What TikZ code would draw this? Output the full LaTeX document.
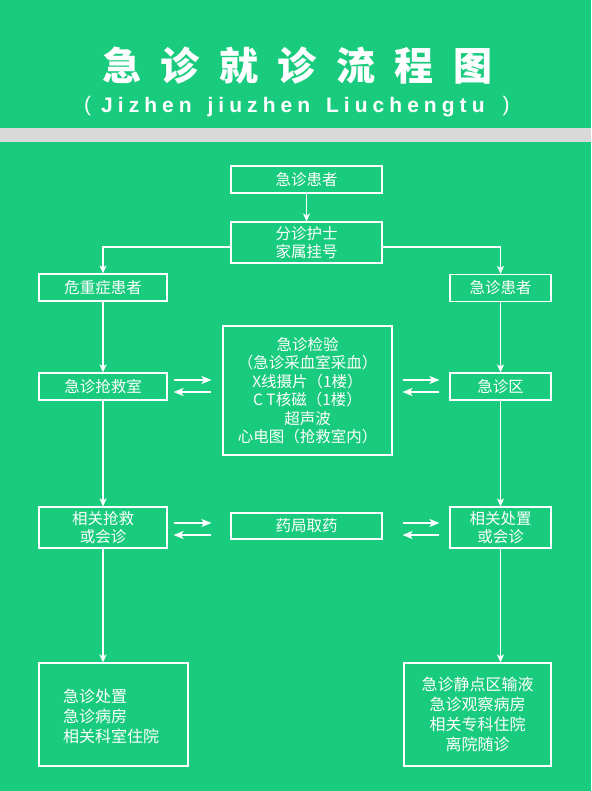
\documentclass[tikz,border=0pt]{standalone}
\usepackage{fontspec}
\newfontfamily\cjk{Noto Sans CJK SC}
\newfontfamily\titf[LetterSpace=50]{Noto Sans CJK SC}
\newfontfamily\subf[LetterSpace=24]{Liberation Sans}
\newfontfamily\parf{Liberation Sans}
\usetikzlibrary{arrows.meta}
\definecolor{bg}{RGB}{25,204,125}
\definecolor{barc}{RGB}{217,217,217}
\begin{document}
\begin{tikzpicture}[x=1pt,y=-1pt,
  boxn/.style={draw=white, line width=1.1pt, text=white, inner sep=0pt, align=center,
    font=\cjk\fontsize{15.5}{18.5}\selectfont},
  txt/.style={text=white, inner sep=0pt, font=\cjk\fontsize{16}{20}\selectfont},
  arr/.style={draw=white, line width=1.3pt, -{Stealth[length=8pt,width=7pt,inset=2pt]}},
  harr/.style={draw=white, line width=1.5pt, -{Stealth[length=10pt,width=8pt,inset=2.5pt]}}]
\useasboundingbox (0,0) rectangle (591,791);
\fill[bg] (0,0) rectangle (591,791);
\fill[barc] (0,128) rectangle (591,142);
% title
\node[anchor=base west, text=white, inner sep=0pt, font=\titf\bfseries\fontsize{39}{39}\selectfont] (title) at (102,81) {急诊就诊流程图};
\node[anchor=base west, text=white, inner sep=0pt, font=\subf\bfseries\fontsize{21}{21}\selectfont] (sub) at (101,113) {Jizhen\hspace{5pt} jiuzhen\hspace{5pt} Liuchengtu};
\node[text=white, inner sep=0pt, font=\parf\fontsize{21}{21}\selectfont] (lp) at (87.5,106) {(};
\node[text=white, inner sep=0pt, font=\parf\fontsize{21}{21}\selectfont] (rp) at (506,106) {)};
% boxes
\node[boxn, minimum width=151pt, minimum height=27pt] (p1) at (306.5,179.5) {急诊患者};
\node[boxn, minimum width=151pt, minimum height=41pt] (p2) at (306.5,242.5) {分诊护士\\家属挂号};
\node[boxn, minimum width=128pt, minimum height=27pt] (l1) at (103,287.5) {危重症患者};
\node[boxn, minimum width=101pt, minimum height=27pt] (r1) at (500.5,288) {急诊患者};
\node[boxn, minimum width=128pt, minimum height=27pt] (l2) at (103,386.5) {急诊抢救室};
\node[boxn, minimum width=169pt, minimum height=129pt] (m2) at (307.5,390.5) {急诊检验\\（急诊采血室采血）\\X线摄片（1楼）\\C T核磁（1楼）\\超声波\\心电图（抢救室内）};
\node[boxn, minimum width=101pt, minimum height=27pt] (r2) at (500.5,386.5) {急诊区};
\node[boxn, minimum width=128pt, minimum height=41pt] (l3) at (103,527.5) {相关抢救\\或会诊};
\node[boxn, minimum width=151pt, minimum height=26pt] (m3) at (306.5,526) {药局取药};
\node[boxn, minimum width=101pt, minimum height=41pt] (r3) at (500.5,527.5) {相关处置\\或会诊};
\node[boxn, minimum width=149pt, minimum height=103pt] (l4) at (113.5,714.5) {};
\node[txt, anchor=west, align=left] (l4t) at (63,716.5) {急诊处置\\急诊病房\\相关科室住院};
\node[boxn, minimum width=147pt, minimum height=103pt, font=\cjk\fontsize{16}{20}\selectfont] (r4) at (477.5,714.5) {急诊静点区输液\\急诊观察病房\\相关专科住院\\离院随诊};
% connectors
\draw[arr] (p1) -- (p2);
\draw[arr] ([yshift=-4.5pt]p2.west) -| (l1.north);
\draw[arr] ([yshift=-4.5pt]p2.east) -| (r1.north);
\draw[arr] (l1) -- (l2);
\draw[arr] (l2) -- (l3);
\draw[arr] (l3.south) -- (l3.south |- l4.north);
\draw[arr] (r1) -- (r2);
\draw[arr] (r2) -- (r3);
\draw[arr] (r3.south) -- (r3.south |- r4.north);
% horizontal pairs
\draw[harr] ([xshift=6pt,yshift=6.5pt]l2.east) -- ([xshift=-11pt,yshift=6.5pt]l2.east -| m2.west);
\draw[harr] ([xshift=-11pt,yshift=-5.5pt]l2.east -| m2.west) -- ([xshift=6pt,yshift=-5.5pt]l2.east);
\draw[harr] ([xshift=10pt,yshift=6.5pt]r2.west -| m2.east) -- ([xshift=-10pt,yshift=6.5pt]r2.west);
\draw[harr] ([xshift=-10pt,yshift=-5.5pt]r2.west) -- ([xshift=10pt,yshift=-5.5pt]r2.west -| m2.east);
\draw[harr] ([xshift=6pt,yshift=4.5pt]l3.east) -- ([xshift=-11pt,yshift=4.5pt]l3.east -| m2.west);
\draw[harr] ([xshift=-11pt,yshift=-7.5pt]l3.east -| m2.west) -- ([xshift=6pt,yshift=-7.5pt]l3.east);
\draw[harr] ([xshift=10pt,yshift=4.5pt]r3.west -| m2.east) -- ([xshift=-10pt,yshift=4.5pt]r3.west);
\draw[harr] ([xshift=-10pt,yshift=-7.5pt]r3.west) -- ([xshift=10pt,yshift=-7.5pt]r3.west -| m2.east);
\end{tikzpicture}
\end{document}
